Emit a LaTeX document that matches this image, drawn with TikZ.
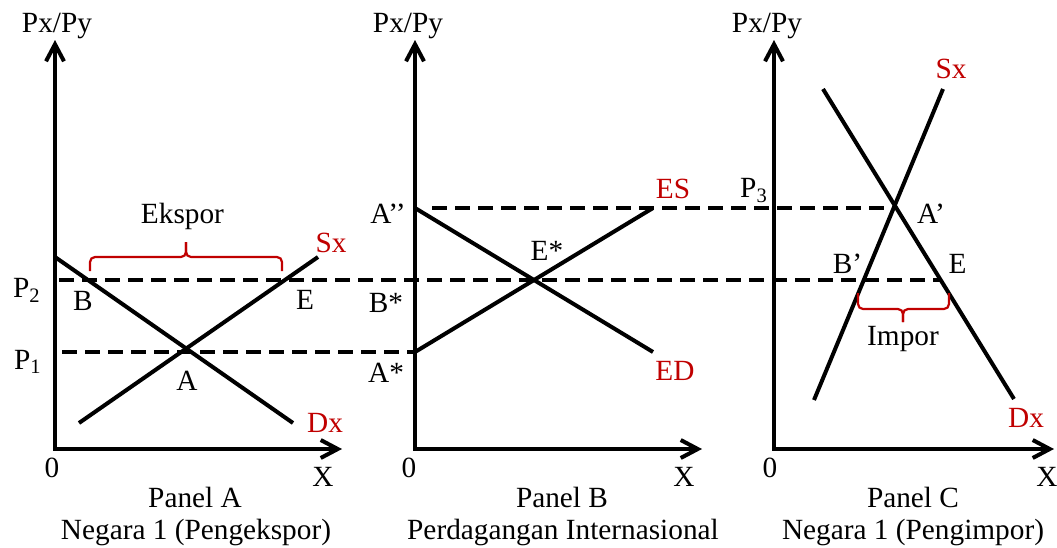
\documentclass[tikz,border=0pt]{standalone}
\usepackage{fontspec}
\setmainfont{Liberation Serif}
\usetikzlibrary{arrows.meta}
\definecolor{darkred}{RGB}{192,0,0}
\begin{document}
\begin{tikzpicture}[x=1pt,y=-1pt,
  axis/.style={line width=4pt, {Straight Barb[length=17pt,width=18pt]}-{Straight Barb[length=17pt,width=18pt]}},
  curve/.style={line width=4pt},
  guide/.style={line width=4pt, dash pattern=on 15pt off 8pt},
  brace/.style={draw=darkred, line width=2.2pt, rounded corners=5pt},
  lbl/.style={font=\fontsize{29.3}{35}\selectfont, inner sep=0pt, anchor=base},
  lblw/.style={lbl, anchor=base west},
  rlbl/.style={lbl, text=darkred},
]
\useasboundingbox (0,0) rectangle (1057,547);

% ---------- coordinates ----------
% Panel A
\coordinate (aO) at (55,449);
\coordinate (aY) at (55,40);
\coordinate (aX) at (342,449);
\coordinate (aD1) at (55,257);
\coordinate (aD2) at (293,423);
\coordinate (aS1) at (79,423);
\coordinate (aS2) at (318,257);
\coordinate (p2s) at (59,280);
\coordinate (p2e) at (942,280);
\coordinate (p1s) at (62,352);
\coordinate (p1e) at (415,352);
% Panel B
\coordinate (bO) at (415,449);
\coordinate (bY) at (415,40);
\coordinate (bX) at (702,449);
\coordinate (bD1) at (415,208);
\coordinate (bD2) at (653,352);
\coordinate (bS1) at (415,352);
\coordinate (bS2) at (653,208);
\coordinate (p3s) at (432,208);
\coordinate (p3e) at (895,208);
% Panel C
\coordinate (cO) at (774,449);
\coordinate (cY) at (774,40);
\coordinate (cX) at (1054,449);
\coordinate (cD1) at (823,89);
\coordinate (cD2) at (1014,399);
\coordinate (cS1) at (814,400);
\coordinate (cS2) at (943,89);

% ---------- axes ----------
\draw[axis] (aY) -- (aO) -- (aX);
\draw[axis] (bY) -- (bO) -- (bX);
\draw[axis] (cY) -- (cO) -- (cX);

% ---------- dashed guides ----------
\draw[guide] (p2s) -- (p2e);
\draw[guide] (p1s) -- (p1e);
\draw[guide] (p3s) -- (p3e);

% ---------- curves ----------
\draw[curve] (aD1) -- (aD2);
\draw[curve] (aS1) -- (aS2);
\draw[curve] (bD1) -- (bD2);
\draw[curve] (bS1) -- (bS2);
\draw[curve] (cD1) -- (cD2);
\draw[curve] (cS1) -- (cS2);

% ---------- braces ----------
\draw[brace] (90,271) -- (90,257) -- (186,257) -- (186,242);
\draw[brace] (282,271) -- (282,257) -- (186,257) -- (186,242);
\draw[brace] (858,293) -- (858,309) -- (903,309) -- (903,322);
\draw[brace] (949,293) -- (949,309) -- (903,309) -- (903,322);

% ---------- labels Panel A ----------
\node[lbl] (aPxPy) at (57,32) {Px/Py};
\node[lblw] (lP2) at (13,297) {P\textsubscript{2}};
\node[lblw] (lP1) at (14,369) {P\textsubscript{1}};
\node[lbl] (lB) at (83,310) {B};
\node[lbl] (lEa) at (305,309) {E};
\node[lbl] (lEks) at (182.5,223) {Ekspor};
\node[rlbl] (lSxa) at (331,252) {Sx};
\node[lbl] (lA) at (187,390) {A};
\node[rlbl] (lDxa) at (325,432) {Dx};
\node[lbl] (a0) at (52,477) {0};
\node[lbl] (aXl) at (323,486) {X};
\node[lbl] (aT1) at (195,507) {Panel A};
\node[lbl] (aT2) at (196,539) {Negara 1 (Pengekspor)};

% ---------- labels Panel B ----------
\node[lbl] (bPxPy) at (408,32) {Px/Py};
\node[lbl] (lApp) at (388,223) {A’’};
\node[lbl] (lBs) at (386,312) {B*};
\node[lbl] (lAs) at (386,382) {A*};
\node[lbl] (lEs) at (547,260) {E*};
\node[rlbl] (lES) at (673,198) {ES};
\node[rlbl] (lED) at (675,380) {ED};
\node[lbl] (b0) at (409,477) {0};
\node[lbl] (bXl) at (684,486) {X};
\node[lbl] (bT1) at (562,507) {Panel B};
\node[lbl] (bT2) at (563,539) {Perdagangan Internasional};

% ---------- labels Panel C ----------
\node[lbl] (cPxPy) at (767,32) {Px/Py};
\node[rlbl] (lSxc) at (951,78) {Sx};
\node[lblw] (lP3) at (740,197) {P\textsubscript{3}};
\node[lbl] (lAp) at (931,223) {A’};
\node[lbl] (lBp) at (847.5,273) {B’};
\node[lbl] (lEc) at (957.5,273) {E};
\node[lbl] (lImp) at (903,345) {Impor};
\node[rlbl] (lDxc) at (1026,427) {Dx};
\node[lbl] (c0) at (770,477) {0};
\node[lbl] (cXl) at (1047,486) {X};
\node[lbl] (cT1) at (913,507) {Panel C};
\node[lbl] (cT2) at (913,539) {Negara 1 (Pengimpor)};
\end{tikzpicture}
\end{document}
